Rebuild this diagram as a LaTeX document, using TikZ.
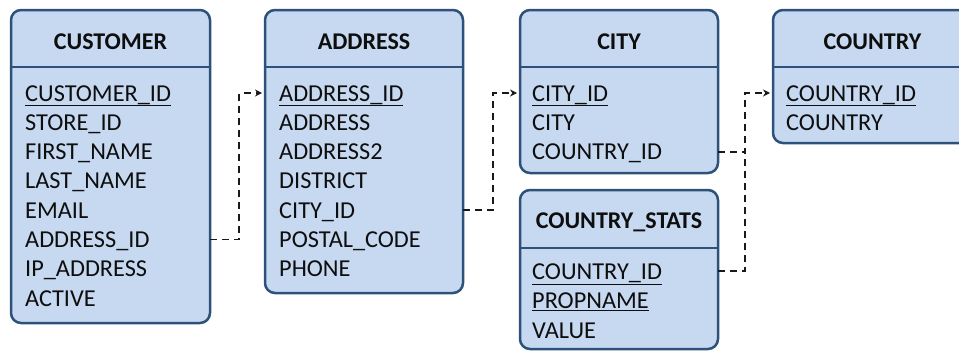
\documentclass[tikz,border=0pt]{standalone}
\usepackage{fontspec}
\setmainfont{Carlito}
\usetikzlibrary{arrows.meta,calc}
\definecolor{boxfill}{HTML}{C6D9F1}
\definecolor{boxline}{HTML}{2E5179}
\definecolor{txt}{HTML}{0E0E0E}
\begin{document}
\begin{tikzpicture}[x=1pt,y=-1pt,
  tbl/.style={draw=boxline, line width=2.5pt, fill=boxfill, rounded corners=10pt,
    anchor=north west, inner sep=0pt, outer sep=0pt},
  divider/.style={draw=boxline, line width=2.5pt},
  hdr/.style={font=\fontsize{24}{29}\selectfont\bfseries, text=txt, inner sep=0pt, anchor=base},
  row/.style={font=\fontsize{24.3}{29}\selectfont, text=txt, inner sep=0pt, anchor=base west},
  fk/.style={black!90, line width=1.8pt, dash pattern=on 7pt off 5pt, -{Stealth[length=7pt,width=7pt]}},
  fkline/.style={black!90, line width=1.8pt, dash pattern=on 7pt off 5pt}]
\useasboundingbox (0,0) rectangle (959,351);

% tables
\node[tbl, minimum width=199pt, minimum height=313pt] (customer) at (11,10) {};
\node[tbl, minimum width=198pt, minimum height=283pt] (address) at (265,10) {};
\node[tbl, minimum width=198pt, minimum height=163pt] (city) at (520,10) {};
\node[tbl, minimum width=199pt, minimum height=133pt] (country) at (773,10) {};
\node[tbl, minimum width=198pt, minimum height=159pt] (stats) at (520,190) {};

% header dividers
\foreach \b in {customer,address,city,country}
  \draw[divider] ([yshift=-57pt]\b.north west) -- ([yshift=-57pt]\b.north east);
\draw[divider] ([yshift=-58pt]stats.north west) -- ([yshift=-58pt]stats.north east);

% headers
\node[hdr] (customerH) at ($(customer.north)+(0,39.3)$) {CUSTOMER};
\node[hdr] (addressH) at ($(address.north)+(0,39.3)$) {ADDRESS};
\node[hdr] (cityH) at ($(city.north)+(0,39.3)$) {CITY};
\node[hdr] (countryH) at ($(country.north)+(0,39.3)$) {COUNTRY};
\node[hdr] (statsH) at ($(stats.north)+(0,38.3)$) {COUNTRY\_STATS};

% rows
\foreach \t [count=\i] in {\underline{CUSTOMER\_ID},STORE\_ID,FIRST\_NAME,LAST\_NAME,EMAIL,ADDRESS\_ID,IP\_ADDRESS,ACTIVE}
  \node[row] (c\i) at ($(customer.north west)+(14,91+29.3*\i-29.3)$) {\t};
\foreach \t [count=\i] in {\underline{ADDRESS\_ID},ADDRESS,ADDRESS2,DISTRICT,CITY\_ID,POSTAL\_CODE,PHONE}
  \node[row] (a\i) at ($(address.north west)+(14,91+29.3*\i-29.3)$) {\t};
\foreach \t [count=\i] in {\underline{CITY\_ID},CITY,COUNTRY\_ID}
  \node[row] (ci\i) at ($(city.north west)+(12,91+29.3*\i-29.3)$) {\t};
\foreach \t [count=\i] in {\underline{COUNTRY\_ID},COUNTRY}
  \node[row] (co\i) at ($(country.north west)+(13,91+29.3*\i-29.3)$) {\t};
\foreach \t [count=\i] in {\underline{COUNTRY\_ID},\underline{PROPNAME},VALUE}
  \node[row] (s\i) at ($(stats.north west)+(12,89.3+29.5*\i-29.5)$) {\t};

% connectors
\draw[fk] ($(customer.east |- c6.base)+(0,-8)$) -- ++(29,0) |- ($(address.west |- a1.base)+(-3,-8)$);
\draw[fk] ($(address.east |- a5.base)+(0,-8)$) -- ++(30,0) |- ($(city.west |- ci1.base)+(-3,-8)$);
\draw[fk] ($(city.east |- ci3.base)+(0,-8)$) -- ++(27,0) coordinate (jn) |- ($(country.west |- co1.base)+(-3,-8)$);
\draw[fkline] ($(stats.east |- s1.base)+(0,-8)$) -| (jn);
\end{tikzpicture}
\end{document}
